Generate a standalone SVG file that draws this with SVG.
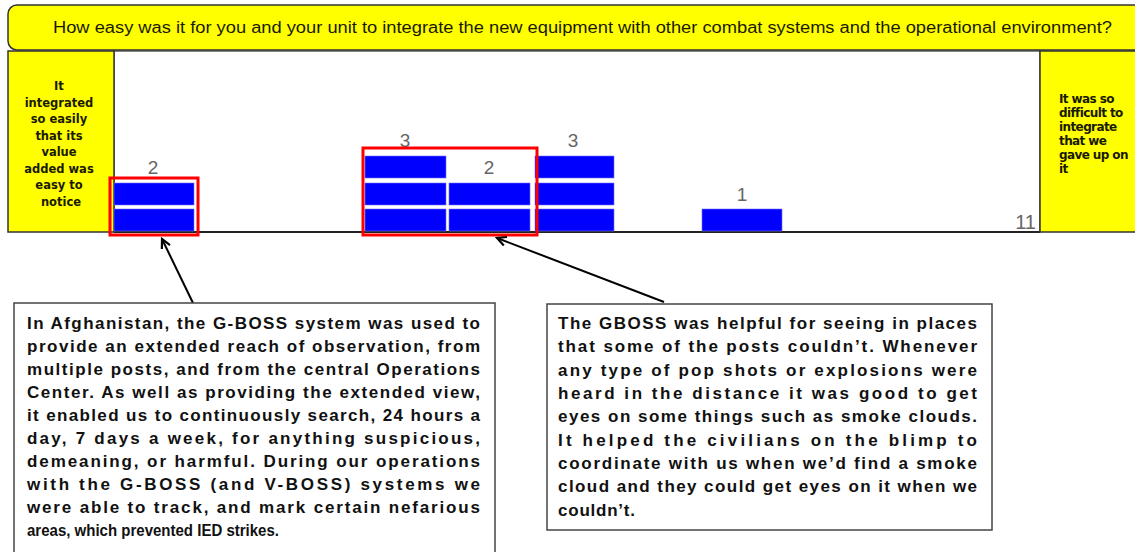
<svg xmlns="http://www.w3.org/2000/svg" width="1135" height="552" viewBox="0 0 1135 552">
  <defs>
    <style>
      .panel { fill: #ffff00; stroke: #333; stroke-width: 1.5; }
      .bar { fill: #0000ff; stroke: #7070ff; stroke-width: 0.6; }
      .hl { fill: none; stroke: #ff0000; stroke-width: 3; }
      .count { font-family: "Liberation Sans", Arial, sans-serif; font-size: 19px; fill: #666; }
      .scale { font-family: "DejaVu Sans", Verdana, sans-serif; font-weight: bold; fill: #1a1a00; }
      .note { fill: #fff; stroke: #444; stroke-width: 1.5; }
      .body { font-family: "Liberation Sans", Arial, sans-serif; font-weight: bold; font-size: 17px; fill: #111; }
      .link { fill: none; stroke: #000; stroke-width: 2; }
    </style>
    <marker id="head" viewBox="0 0 12 12" refX="10" refY="6" markerWidth="12" markerHeight="12" markerUnits="userSpaceOnUse" orient="auto">
      <path d="M1,1.5 L10,6 L1,10.5" fill="none" stroke="#000" stroke-width="2.2"/>
    </marker>
  </defs>

  <rect width="1135" height="552" fill="#fff"/>

  <!-- question banner -->
  <g id="question">
    <rect class="panel" x="8" y="5" width="1140" height="45" rx="9"/>
    <text x="53" y="33" font-family="Liberation Sans, Arial, sans-serif" font-size="16" fill="#1a1a00" textLength="1059" lengthAdjust="spacingAndGlyphs">How easy was it for you and your unit to integrate the new equipment with other combat systems and the operational environment?</text>
  </g>

  <!-- chart frame -->
  <g id="chart">
    <rect x="114" y="51" width="926" height="181" fill="#fff" stroke="#333" stroke-width="1.2"/>
    <line x1="114" y1="232" x2="1040" y2="232" stroke="#222" stroke-width="2"/>
  </g>

  <!-- scale end labels -->
  <g id="scale-easy">
    <rect class="panel" x="8" y="51" width="106" height="181"/>
    <text class="scale" font-size="11.5" text-anchor="middle">
      <tspan x="61" y="90">It</tspan>
      <tspan x="61" y="106.5">integrated</tspan>
      <tspan x="61" y="123">so easily</tspan>
      <tspan x="61" y="139.5">that its</tspan>
      <tspan x="61" y="156">value</tspan>
      <tspan x="61" y="172.5">added was</tspan>
      <tspan x="61" y="189">easy to</tspan>
      <tspan x="61" y="205.5">notice</tspan>
    </text>
  </g>
  <g id="scale-hard">
    <rect class="panel" x="1040" y="51" width="100" height="181"/>
    <text class="scale" font-size="12" letter-spacing="-0.6">
      <tspan x="1059" y="103">It was so</tspan>
      <tspan x="1059" y="117">difficult to</tspan>
      <tspan x="1059" y="131">integrate</tspan>
      <tspan x="1059" y="145">that we</tspan>
      <tspan x="1059" y="159">gave up on</tspan>
      <tspan x="1059" y="173">it</tspan>
    </text>
  </g>

  <!-- response stacks -->
  <g id="bars">
    <rect class="bar" x="114" y="209" width="80" height="22"/>
    <rect class="bar" x="114" y="183" width="80" height="22"/>

    <rect class="bar" x="365" y="209" width="81" height="22"/>
    <rect class="bar" x="365" y="183" width="81" height="22"/>
    <rect class="bar" x="365" y="156" width="81" height="22"/>

    <rect class="bar" x="449" y="209" width="81" height="22"/>
    <rect class="bar" x="449" y="183" width="81" height="22"/>

    <rect class="bar" x="535" y="209" width="79" height="22"/>
    <rect class="bar" x="535" y="183" width="79" height="22"/>
    <rect class="bar" x="535" y="156" width="79" height="22"/>

    <rect class="bar" x="702" y="209" width="80" height="22"/>
  </g>

  <g id="counts" class="count" text-anchor="middle">
    <text x="153" y="174">2</text>
    <text x="405" y="147">3</text>
    <text x="489" y="174">2</text>
    <text x="573" y="147">3</text>
    <text x="742" y="201">1</text>
    <text x="1036" y="229" font-size="20" text-anchor="end">11</text>
  </g>

  <!-- highlighted stacks -->
  <g id="highlights">
    <rect class="hl" x="110" y="178" width="88" height="57"/>
    <rect class="hl" x="363" y="148" width="174" height="87"/>
  </g>

  <!-- connectors -->
  <g id="connectors">
    <line class="link" x1="193" y1="303" x2="162" y2="239" marker-end="url(#head)"/>
    <line class="link" x1="664" y1="302" x2="497" y2="238" marker-end="url(#head)"/>
  </g>

  <!-- comment boxes -->
  <g id="comment-afghanistan">
    <rect class="note" x="14" y="303" width="481" height="262"/>
    <text class="body">
      <tspan x="27" y="329" textLength="453" lengthAdjust="spacing">In Afghanistan, the G-BOSS system was used to</tspan>
      <tspan x="27" y="352" textLength="453" lengthAdjust="spacing">provide an extended reach of observation, from</tspan>
      <tspan x="27" y="375" textLength="453" lengthAdjust="spacing">multiple posts, and from the central Operations</tspan>
      <tspan x="27" y="398" textLength="453" lengthAdjust="spacing">Center. As well as providing the extended view,</tspan>
      <tspan x="27" y="421" textLength="453" lengthAdjust="spacing">it enabled us to continuously search, 24 hours a</tspan>
      <tspan x="27" y="444" textLength="453" lengthAdjust="spacing">day, 7 days a week, for anything suspicious,</tspan>
      <tspan x="27" y="467" textLength="453" lengthAdjust="spacing">demeaning, or harmful. During our operations</tspan>
      <tspan x="27" y="490" textLength="453" lengthAdjust="spacing">with the G-BOSS (and V-BOSS) systems we</tspan>
      <tspan x="27" y="513" textLength="453" lengthAdjust="spacing">were able to track, and mark certain nefarious</tspan>
      <tspan x="27" y="536" textLength="252" lengthAdjust="spacingAndGlyphs">areas, which prevented IED strikes.</tspan>
    </text>
  </g>

  <g id="comment-gboss">
    <rect class="note" x="547" y="304" width="445" height="226"/>
    <text class="body">
      <tspan x="558" y="329" textLength="419" lengthAdjust="spacing">The GBOSS was helpful for seeing in places</tspan>
      <tspan x="558" y="352" textLength="419" lengthAdjust="spacing">that some of the posts couldn’t. Whenever</tspan>
      <tspan x="558" y="375.5" textLength="419" lengthAdjust="spacing">any type of pop shots or explosions were</tspan>
      <tspan x="558" y="399" textLength="419" lengthAdjust="spacing">heard in the distance it was good to get</tspan>
      <tspan x="558" y="422" textLength="419" lengthAdjust="spacing">eyes on some things such as smoke clouds.</tspan>
      <tspan x="558" y="445.5" textLength="419" lengthAdjust="spacing">It helped the civilians on the blimp to</tspan>
      <tspan x="558" y="469" textLength="419" lengthAdjust="spacing">coordinate with us when we’d find a smoke</tspan>
      <tspan x="558" y="492" textLength="419" lengthAdjust="spacing">cloud and they could get eyes on it when we</tspan>
      <tspan x="558" y="515.5" textLength="77" lengthAdjust="spacing">couldn’t.</tspan>
    </text>
  </g>
</svg>
